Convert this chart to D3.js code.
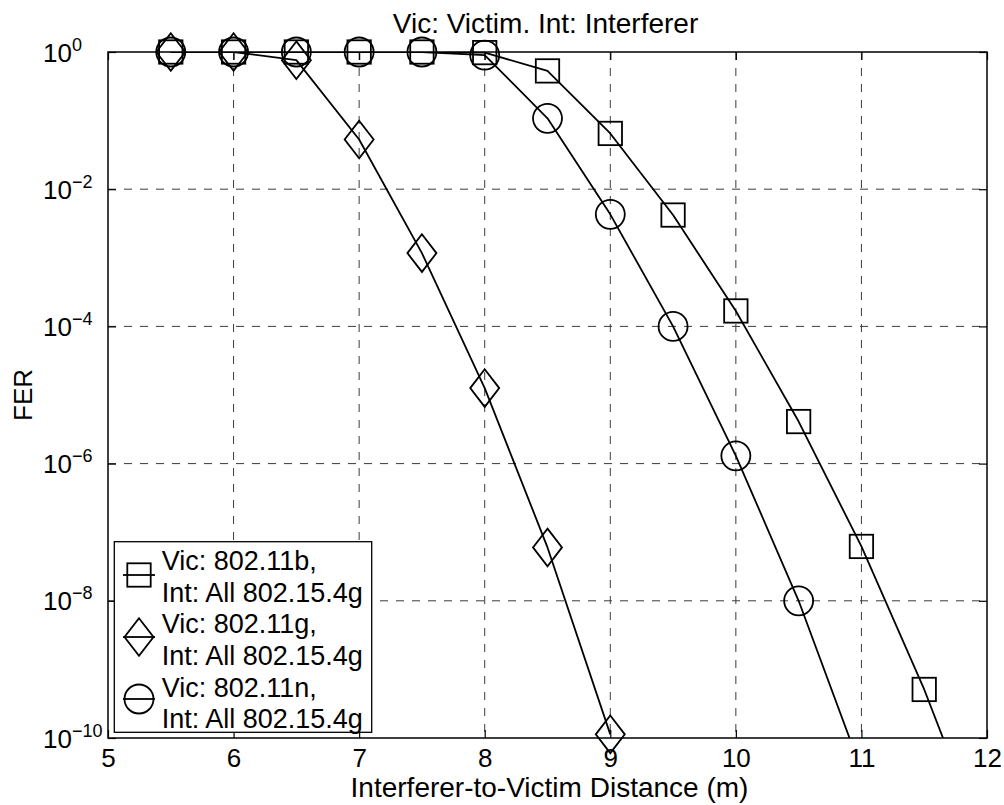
<!DOCTYPE html>
<html>
<head>
<meta charset="utf-8">
<script src="https://cdn.jsdelivr.net/npm/d3@7"></script>
<style>
  body { margin: 0; background: #fff; }
  svg { display: block; }
  text { font-family: "Liberation Sans", Arial, sans-serif; fill: #000; }
</style>
</head>
<body>
<svg id="chart" width="1004" height="805"></svg>
<script>
// Interferer-to-victim distance (m) at which each FER was evaluated
const distances = [5.5, 6, 6.5, 7, 7.5, 8, 8.5, 9, 9.5, 10, 10.5, 11, 11.5, 12];

// Frame error rate per victim standard (interferer: all 802.15.4g)
const ferB = [1, 1, 1, 1, 1, 0.98, 0.53, 0.065, 4.2e-3, 1.68e-4, 4.1e-6, 6.2e-8, 5.1e-10, 2.2e-12];
const ferG = [1, 1, 0.76, 0.053, 1.17e-3, 1.26e-5, 6.0e-8, 1.13e-10];
const ferN = [1, 1, 1, 1, 1, 0.9, 0.108, 4.3e-3, 1.0e-4, 1.3e-6, 1.0e-8, 3.4e-11];

const xTicks = [5, 6, 7, 8, 9, 10, 11, 12];
const yTickExponents = [0, -2, -4, -6, -8, -10];

const legendB = ["Vic: 802.11b,", "Int: All 802.15.4g"];
const legendG = ["Vic: 802.11g,", "Int: All 802.15.4g"];
const legendN = ["Vic: 802.11n,", "Int: All 802.15.4g"];

const titleText = "Vic: Victim. Int: Interferer";
const xLabelText = "Interferer-to-Victim Distance (m)";
const yLabelText = "FER";

// ---- layout ----
const W = 1004, H = 805;
const plot = { left: 108, right: 987, top: 52, bottom: 738 };

const svg = d3.select("#chart");
svg.append("rect").attr("width", W).attr("height", H).attr("fill", "#fff");

const x = d3.scaleLinear().domain([5, 12]).range([plot.left, plot.right]);
const y = d3.scaleLog().domain([1e-10, 1]).range([plot.bottom, plot.top]);
const yTicks = yTickExponents.map(e => Math.pow(10, e));

// ---- grid ----
const grid = svg.append("g")
  .attr("stroke", "#3a3a3a").attr("stroke-width", 1)
  .attr("stroke-dasharray", "8,8").attr("fill", "none");
xTicks.filter(v => v > 5 && v < 12).forEach(v => {
  grid.append("line")
    .attr("x1", x(v)).attr("x2", x(v))
    .attr("y1", plot.top).attr("y2", plot.bottom);
});
yTicks.filter(v => v > 1e-10 && v < 1).forEach(v => {
  grid.append("line")
    .attr("x1", plot.left).attr("x2", plot.right)
    .attr("y1", y(v)).attr("y2", y(v));
});

// ---- axes (inward ticks on all four sides) ----
const tickLen = 8;
const xAxisB = svg.append("g")
  .attr("transform", `translate(0,${plot.bottom})`)
  .call(d3.axisBottom(x).tickValues(xTicks).tickSizeInner(-tickLen).tickSizeOuter(0).tickPadding(10.5)
    .tickFormat(d3.format("d")));
xAxisB.selectAll(".tick text").attr("font-size", 26).attr("font-family", null);

svg.append("g")
  .attr("transform", `translate(0,${plot.top})`)
  .call(d3.axisTop(x).tickValues(xTicks).tickSizeInner(-tickLen).tickSizeOuter(0).tickFormat(""));

const yAxisL = svg.append("g")
  .attr("transform", `translate(${plot.left},0)`)
  .call(d3.axisLeft(y).tickValues(yTicks).tickSizeInner(-tickLen).tickSizeOuter(0));

// power-of-ten labels: "10" followed by a raised exponent
yAxisL.selectAll(".tick text")
  .attr("x", -65).attr("dy", null).attr("y", 9)
  .attr("text-anchor", "start").attr("font-family", null)
  .attr("font-size", 26)
  .text(null)
  .each(function (d) {
    const e = Math.round(Math.log10(d));
    const t = d3.select(this);
    t.append("tspan").text("10");
    t.append("tspan").attr("font-size", 18).attr("dy", -11)
      .text(e < 0 ? "\u2212" + (-e) : String(e));
  });

svg.append("g")
  .attr("transform", `translate(${plot.right},0)`)
  .call(d3.axisRight(y).tickValues(yTicks).tickSizeInner(-tickLen).tickSizeOuter(0).tickFormat(""));

svg.selectAll(".domain").remove();
svg.selectAll(".tick line").attr("stroke", "#000").attr("stroke-width", 1.2);

// axes box
svg.append("rect")
  .attr("x", plot.left).attr("y", plot.top)
  .attr("width", plot.right - plot.left).attr("height", plot.bottom - plot.top)
  .attr("fill", "none").attr("stroke", "#000").attr("stroke-width", 1.5);

// ---- series ----
svg.append("clipPath").attr("id", "plotClip")
  .append("rect")
  .attr("x", plot.left).attr("y", plot.top)
  .attr("width", plot.right - plot.left).attr("height", plot.bottom - plot.top);

const markerSize = { square: 11.7, diamondW: 14.5, diamondH: 18.8, circle: 14.5 };

function drawMarker(g, kind, cx, cy) {
  if (kind === "square") {
    g.append("rect")
      .attr("x", cx - markerSize.square).attr("y", cy - markerSize.square)
      .attr("width", 2 * markerSize.square).attr("height", 2 * markerSize.square);
  } else if (kind === "diamond") {
    const w = markerSize.diamondW, h = markerSize.diamondH;
    g.append("path")
      .attr("d", `M${cx},${cy - h}L${cx + w},${cy}L${cx},${cy + h}L${cx - w},${cy}Z`);
  } else {
    g.append("circle").attr("cx", cx).attr("cy", cy).attr("r", markerSize.circle);
  }
}

const series = [
  { values: ferB, marker: "square", label: legendB },
  { values: ferG, marker: "diamond", label: legendG },
  { values: ferN, marker: "circle", label: legendN }
];

const line = d3.line().x(d => x(d[0])).y(d => y(d[1]));

series.forEach(s => {
  const pts = s.values.map((v, i) => [distances[i], v]);
  svg.append("path")
    .datum(pts)
    .attr("clip-path", "url(#plotClip)")
    .attr("d", line)
    .attr("fill", "none").attr("stroke", "#000").attr("stroke-width", 1.8)
    .attr("stroke-linejoin", "round");
  const mg = svg.append("g").attr("fill", "none").attr("stroke", "#000").attr("stroke-width", 1.8);
  pts.filter(p => p[1] >= 1e-10 && p[1] <= 1 && p[0] >= 5 && p[0] <= 12)
    .forEach(p => drawMarker(mg, s.marker, x(p[0]), y(p[1])));
});

// ---- legend ----
const legend = svg.append("g");
legend.append("rect")
  .attr("x", 114.3).attr("y", 541.7).attr("width", 257.4).attr("height", 190.6)
  .attr("fill", "#fff").attr("stroke", "#000").attr("stroke-width", 1.3);

series.forEach((s, i) => {
  const cy = 575 + i * 62;
  const lg = legend.append("g").attr("fill", "none").attr("stroke", "#000").attr("stroke-width", 1.8);
  lg.append("line").attr("x1", 123).attr("x2", 155).attr("y1", cy).attr("y2", cy);
  drawMarker(lg, s.marker, 139, cy);
  const base = 570 + i * 63.3;
  s.label.forEach((txt, j) => {
    legend.append("text")
      .attr("x", 161.7).attr("y", base + j * 31.7)
      .attr("font-size", 27)
      .text(txt);
  });
});

// ---- titles ----
svg.append("text")
  .attr("x", (plot.left + plot.right) / 2 - 2).attr("y", 33)
  .attr("text-anchor", "middle").attr("font-size", 28)
  .text(titleText);

svg.append("text")
  .attr("x", (plot.left + plot.right) / 2 + 2).attr("y", 797)
  .attr("text-anchor", "middle").attr("font-size", 28)
  .text(xLabelText);

svg.append("text")
  .attr("transform", `translate(31.5,${(plot.top + plot.bottom) / 2}) rotate(-90)`)
  .attr("text-anchor", "middle").attr("font-size", 26)
  .text(yLabelText);
</script>
</body>
</html>
